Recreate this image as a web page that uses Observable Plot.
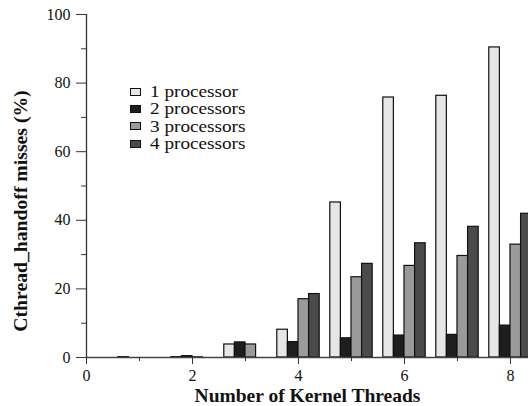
<!DOCTYPE html>
<html>
<head>
<meta charset="utf-8">
<script src="https://cdn.jsdelivr.net/npm/d3@7"></script>
<script src="https://cdn.jsdelivr.net/npm/@observablehq/plot@0.6"></script>
<style>
  html, body { margin: 0; padding: 0; background: white; }
  #wrap { position: relative; width: 528px; height: 406px; overflow: hidden; }
  #legend { position: absolute; left: 130px; top: 83px; font-family: "Liberation Serif", "Times New Roman", serif; font-size: 16px; line-height: 17.3px; color: #111; }
  #legend .row { display: flex; align-items: center; white-space: nowrap; }
  #legend .sw { width: 9px; height: 6px; border: 1px solid #111; margin-right: 9px; flex: none; }
  #legend .tx { display: inline-block; transform: scaleX(1.2); transform-origin: left center; }
</style>
</head>
<body>
<div id="wrap"></div>
<script>
const threads = [1, 2, 3, 4, 5, 6, 7, 8];
const series = ["1 processor", "2 processors", "3 processors", "4 processors"];
const p1 = [0.1, 0.1, 3.8, 8.1, 45.2, 75.8, 76.3, 90.4];
const p2 = [0, 0.4, 4.4, 4.5, 5.6, 6.4, 6.6, 9.3];
const p3 = [0, 0.05, 3.8, 17.0, 23.4, 26.7, 29.6, 32.9];
const p4 = [0, 0, 0, 18.5, 27.3, 33.3, 38.1, 41.9];
const colors = ["#e6e6e6", "#1e1e1e", "#9a9a9a", "#4b4b4b"];
const yTicks = [0, 20, 40, 60, 80, 100];
const yMinor = [10, 30, 50, 70, 90];
const xTicks = [0, 2, 4, 6, 8];
const xMinor = [1, 3, 5, 7];
const xTitle = "Number of Kernel Threads";
const yTitle = "Cthread_handoff misses (%)";

const values = [p1, p2, p3, p4];
const rows = series.flatMap((s, i) => threads.map((t, j) => ({t, s, i, v: values[i][j]})));

const chart = Plot.plot({
  width: 528,
  height: 406,
  marginLeft: 86,
  marginRight: 0,
  marginTop: 14,
  marginBottom: 49,
  style: {fontFamily: "Liberation Serif, Times New Roman, serif", fontSize: "16px", background: "white", color: "#111"},
  x: {domain: [0, 8.34]},
  y: {domain: [0, 100]},
  color: {domain: series, range: colors},
  marks: [
    Plot.rectY(rows, {
      x1: d => d.t - 0.4 + 0.2 * d.i,
      x2: d => d.t - 0.2 + 0.2 * d.i,
      y: "v",
      fill: "s",
      stroke: "#111",
      strokeWidth: 1.2,
      clip: true
    }),
    Plot.ruleY([0], {stroke: "#444", strokeWidth: 1.5}),
    Plot.ruleX([0], {stroke: "#333", strokeWidth: 1.3}),
    Plot.axisY({ticks: yTicks, tickSize: 10, tickPadding: 6, label: null, stroke: "#333", fontSize: 16}),
    Plot.axisY({ticks: yMinor, tickSize: 5, tickFormat: () => "", label: null, stroke: "#333"}),
    Plot.axisX({ticks: xTicks, tickSize: 7, tickPadding: 5, label: null, stroke: "#333", fontSize: 16}),
    Plot.axisX({ticks: xMinor, tickSize: 4, tickFormat: () => "", label: null, stroke: "#333"}),
    Plot.text([xTitle], {frameAnchor: "bottom", textAnchor: "middle", lineAnchor: "middle", dy: 38, text: d => d, fontWeight: "bold", fontSize: 19.5}),
    Plot.text([yTitle], {frameAnchor: "left", textAnchor: "middle", lineAnchor: "middle", dx: -66, dy: 25, rotate: -90, text: d => d, fontWeight: "bold", fontSize: 19.7})
  ]
});

const wrap = document.getElementById("wrap");
wrap.appendChild(chart);

const legend = document.createElement("div");
legend.id = "legend";
series.forEach((s, i) => {
  const row = document.createElement("div");
  row.className = "row";
  const sw = document.createElement("span");
  sw.className = "sw";
  sw.style.background = colors[i];
  const tx = document.createElement("span");
  tx.className = "tx";
  tx.textContent = s;
  row.appendChild(sw);
  row.appendChild(tx);
  legend.appendChild(row);
});
wrap.appendChild(legend);
</script>
</body>
</html>
